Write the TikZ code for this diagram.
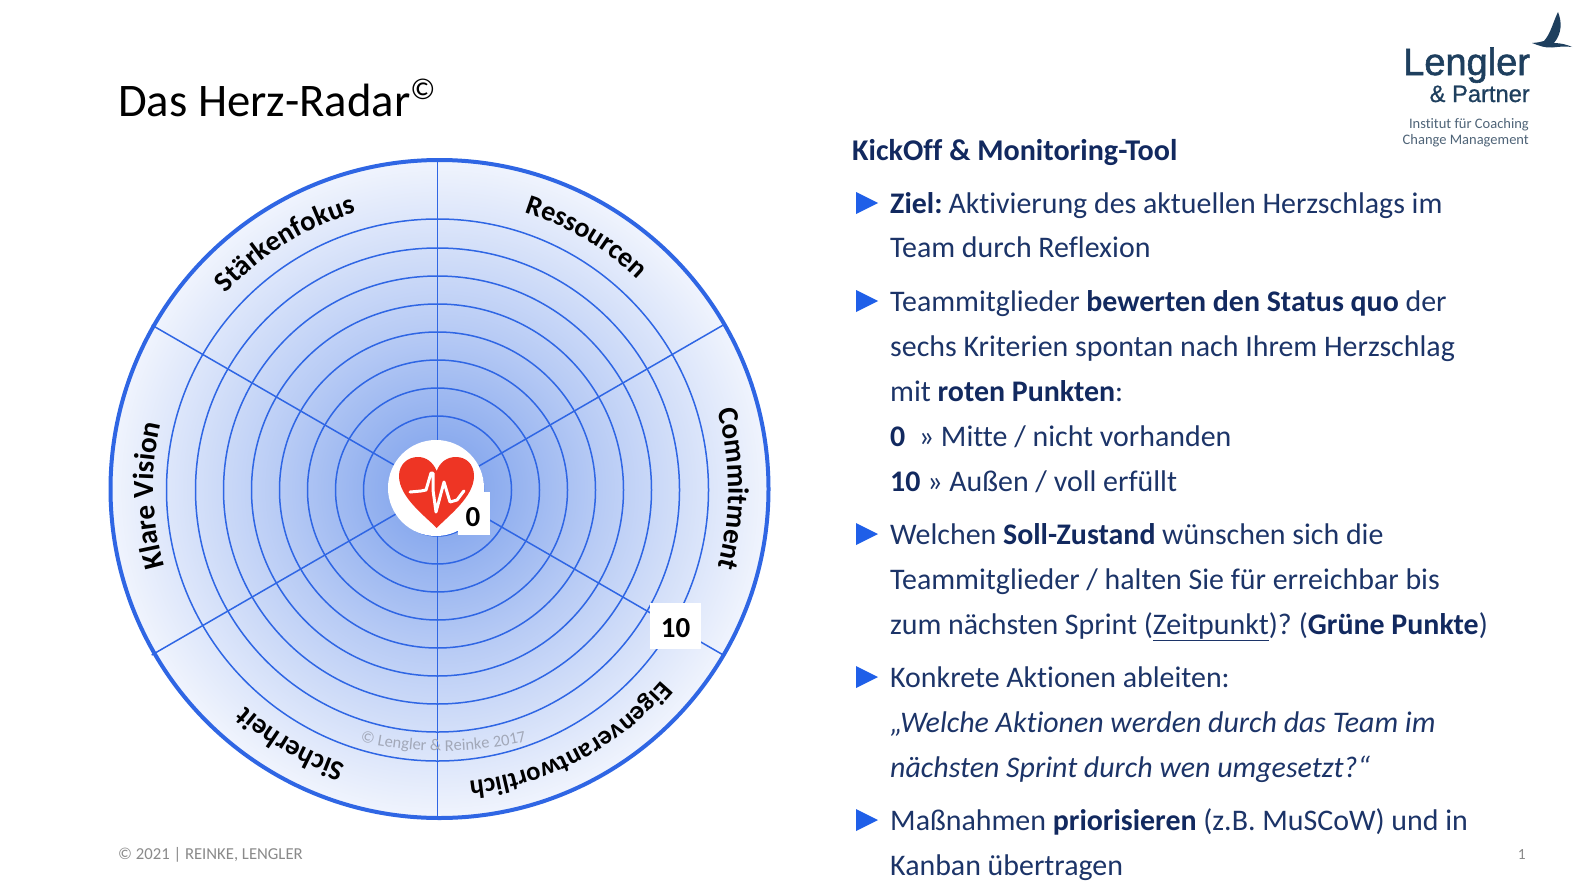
\documentclass[tikz,border=0pt]{standalone}
\usepackage{fontspec}
\setmainfont[Ligatures={NoCommon}]{Carlito}
\newfontfamily\logofont[FakeBold=1.5]{Liberation Sans}
\newfontfamily\logofontb[FakeBold=0.8]{Liberation Sans}
\definecolor{ringblue}{HTML}{2F66E4}
\definecolor{navy}{HTML}{12295F}
\definecolor{bodyblue}{HTML}{1C3468}
\definecolor{logoblue}{HTML}{1E3F5E}
\definecolor{logogrey}{HTML}{4F6478}
\definecolor{arrowblue}{HTML}{1F5FE8}
\definecolor{heartred}{HTML}{EE3524}
\definecolor{footgrey}{HTML}{8A8A8A}
\definecolor{wmgrey}{HTML}{A2A8B8}
\definecolor{gradin}{HTML}{8BABEE}
\definecolor{gradmid}{HTML}{B9CCF5}
\definecolor{gradout}{HTML}{F0F4FD}
\pgfdeclareradialshading{herzshade}{\pgfpoint{0bp}{0bp}}{color(0bp)=(gradin); color(3.5bp)=(gradin); color(12.5bp)=(gradmid); color(25bp)=(gradout); color(50bp)=(gradout)}
\newcommand{\bodysz}{\fontsize{29.9}{34}\selectfont}
\newcommand{\arcsz}{28}
\newcommand{\arclabelfont}{\bfseries\fontsize{\arcsz}{34}\selectfont}
\newcommand{\wmfont}{\fontsize{16.5}{20}\selectfont}
\newlength\arcw
\newcommand{\measurew}[2]{%
  \setbox0=\hbox{\pgfinterruptpicture\normalfont#1#2\endpgfinterruptpicture}%
  \arcw=\wd0 \pgfmathsetmacro\wnum{\the\arcw}%
}
\newcommand{\arctextcw}[5]{% size, radius, centre angle, whole text, letters
  \renewcommand{\arcsz}{#1}%
  \measurew{\arclabelfont}{#4}%
  \pgfmathsetmacro\startang{#3-0.5*\wnum/#2*57.2958}%
  \xdef\curang{\startang}%
  \foreach \ch in {#5}{%
    \measurew{\arclabelfont}{\ch}%
    \pgfmathsetmacro\midang{\curang+0.5*\wnum/#2*57.2958}%
    \pgfmathsetmacro\nextang{\curang+\wnum/#2*57.2958}%
    \node[anchor=base,inner sep=0pt,font=\arclabelfont,rotate={-(\midang+90)}] at (\midang:#2) {\ch};
    \xdef\curang{\nextang}%
  }%
}
\newcommand{\arctextccw}[4]{%
  \measurew{\wmfont}{#3}%
  \pgfmathsetmacro\startang{#2+0.5*\wnum/#1*57.2958}%
  \xdef\curang{\startang}%
  \foreach \ch in {#4}{%
    \measurew{\wmfont}{\ch}%
    \pgfmathsetmacro\midang{\curang-0.5*\wnum/#1*57.2958}%
    \pgfmathsetmacro\nextang{\curang-\wnum/#1*57.2958}%
    \node[anchor=base,inner sep=0pt,font=\wmfont,text=wmgrey,rotate={-(\midang-90)}] at (\midang:#1) {\ch};
    \xdef\curang{\nextang}%
  }%
}
\tikzset{
  x=1pt,y=-1pt,
  bodyline/.style={anchor=base west,inner sep=0pt,text=bodyblue,font=\bodysz},
  ringline/.style={draw=ringblue,line width=1.5pt},
  pointer/.style={fill=arrowblue,draw=none},
  whitepatch/.style={fill=white,draw=none},
}
\newcommand{\pointerat}[2]{\path[pointer] (#1,#2-11) -- (#1+22,#2) -- (#1,#2+11) -- cycle;}
\newcommand{\bb}[1]{\textbf{\textcolor{navy}{#1}}}
\begin{document}
\begin{tikzpicture}
\fill[white] (0,0) rectangle (1584,886);
\useasboundingbox (0,0) rectangle (1584,886);
% radar
\coordinate (rimc) at (439.5,489);
\shade[shading=herzshade] (rimc) circle[radius=329];
\begin{scope}[shift={(437.5,490)}]
  \coordinate (hub) at (0,0);
  \foreach \rr in {46,74,102,130,158,186,214,242,271}
    \draw[ringline] (hub) circle[radius=\rr];
  \foreach \a in {-90,-30,30,90,150,210}
    \draw[ringline] (hub) -- (\a:330);
\end{scope}
\draw[draw=ringblue,line width=4pt] (rimc) circle[radius=329];
\begin{scope}[shift={(437.5,489)}]
  \arctextcw{28}{290}{-59.5}{Ressourcen}{R,e,s,s,o,u,r,c,e,n}
  \arctextcw{29}{291}{0}{Commitment}{C,o,m,m,i,t,m,e,n,t}
  \arctextcw{26.5}{294}{62}{Eigenverantwortlich}{E,i,g,e,n,v,e,r,a,n,t,w,o,r,t,l,i,c,h}
  \arctextcw{28}{290}{120}{Sicherheit}{S,i,c,h,e,r,h,e,i,t}
  \arctextcw{29.3}{284}{178.7}{Klare Vision}{K,l,a,r,e,~,V,i,s,i,o,n}
  \arctextcw{28.5}{288}{238}{Stärkenfokus}{S,t,ä,r,k,e,n,f,o,k,u,s}
\end{scope}
\begin{scope}[shift={(443,387)}]
  \arctextccw{364}{90}{© Lengler \& Reinke 2017}{©,~,L,e,n,g,l,e,r,~,\&,~,R,e,i,n,k,e,~,2,0,1,7}
\end{scope}
% hub patches
\fill[white] (436,488) circle[radius=48];
\fill[whitepatch] (458,492) rectangle (490,535);
\fill[whitepatch] (650,603) rectangle (701,649);
\path[fill=heartred] (436.7,528)
  .. controls (425,516) and (399,497) .. (399,476)
  .. controls (399,464) and (408,457) .. (418,457)
  .. controls (426,457) and (433,462) .. (436.7,471)
  .. controls (440,462) and (447,457) .. (456,457)
  .. controls (466,457) and (474,464) .. (474,476)
  .. controls (474,497) and (448,516) .. (436.7,528) -- cycle;
\draw[white,line width=3pt,line cap=round,line join=round]
  (410,492) -- (421,491) -- (426,490) -- (431,473) -- (433,473) -- (433,490) -- (436,512) -- (444,482) -- (450,502) -- (457,500) -- (463,492) -- (464,491);
\node[anchor=base,inner sep=0pt,font=\bfseries\fontsize{29}{34}\selectfont] (zerolabel) at (473,526) {0};
\node[anchor=base,inner sep=0pt,font=\bfseries\fontsize{29}{34}\selectfont] (tenlabel) at (675.5,637) {10};
% title and footer
\node[anchor=base west,inner sep=0pt,font=\fontsize{46.7}{50}\selectfont] (title) at (118,116) {Das Herz-Radar\raisebox{0.36em}{\fontsize{30}{34}\selectfont ©}};
\node[anchor=base west,inner sep=0pt,text=footgrey,font=\fontsize{16.7}{18}\selectfont] (footer) at (118,859) {© 2021 | REINKE, LENGLER};
\node[anchor=base east,inner sep=0pt,text=footgrey,font=\fontsize{15.5}{18}\selectfont] (pagenum) at (1526,859) {1};
% logo
\path[fill=logoblue] (1532,43) .. controls (1538,42.5) and (1541,42) .. (1544,41)
  .. controls (1551,33) and (1553,22) .. (1558,12)
  .. controls (1562,22) and (1562,33) .. (1554,43)
  .. controls (1561,43) and (1568,45) .. (1572,47)
  .. controls (1563,46) and (1558,47) .. (1552,47.5)
  .. controls (1545,48) and (1540,46) .. (1532,43) -- cycle;
\node[anchor=base west,inner sep=0pt,text=logoblue,font=\logofont\fontsize{38}{40}\selectfont] (logoa) at (1403,75) {Lengler};
\node[anchor=base east,inner sep=0pt,text=logoblue,font=\logofontb\fontsize{23.7}{26}\selectfont] (logob) at (1530,102) {\&~Partner};
\node[anchor=base east,inner sep=0pt,text=logogrey,font=\fontsize{14.5}{16}\selectfont] (logoc) at (1529,128) {Institut für Coaching};
\node[anchor=base east,inner sep=0pt,text=logogrey,font=\fontsize{14.5}{16}\selectfont] (logod) at (1529,144) {Change Management};
% right column
\node[anchor=base west,inner sep=0pt,text=navy,font=\bfseries\fontsize{30.1}{34}\selectfont] (head) at (852,160) {KickOff \& Monitoring-Tool};
\pointerat{856}{203}
\node[bodyline] (l1) at (890,213) {\bb{Ziel:}\kern-3pt{} Aktivierung des aktuellen Herzschlags im};
\node[bodyline] (l2) at (890,257) {Team durch Reflexion};
\pointerat{856}{301}
\node[bodyline] (l3) at (890,311) {Teammitglieder \bb{bewerten den Status quo} der};
\node[bodyline] (l4) at (890,356) {sechs Kriterien spontan nach Ihrem Herzschlag};
\node[bodyline] (l5) at (890,401) {mit \bb{roten Punkten}:};
\node[bodyline] (l6) at (890,446) {\bb{0}\ \ » Mitte / nicht vorhanden};
\node[bodyline] (l7) at (890,491) {\bb{10} » Außen / voll erfüllt};
\pointerat{856}{534}
\node[bodyline] (l8) at (890,544) {Welchen \bb{Soll-Zustand} wünschen sich die};
\node[bodyline] (l9) at (890,589) {Teammitglieder / halten Sie für erreichbar bis};
\node[bodyline] (l10) at (890,634) {zum nächsten Sprint (\underline{Zeitpunkt})?\kern-2pt{} (\bb{Grüne Punkte})};
\pointerat{856}{677}
\node[bodyline] (l11) at (890,687) {Konkrete Aktionen ableiten:};
\node[bodyline] (l12) at (890,732) {\itshape „Welche Aktionen werden durch das Team im};
\node[bodyline] (l13) at (890,777) {\itshape nächsten Sprint durch wen umgesetzt?“};
\pointerat{856}{820}
\node[bodyline] (l14) at (890,830) {Maßnahmen \bb{priorisieren} (z.B. MuSCoW) und in};
\node[bodyline] (l15) at (890,875) {Kanban übertragen};
\end{tikzpicture}
\end{document}
